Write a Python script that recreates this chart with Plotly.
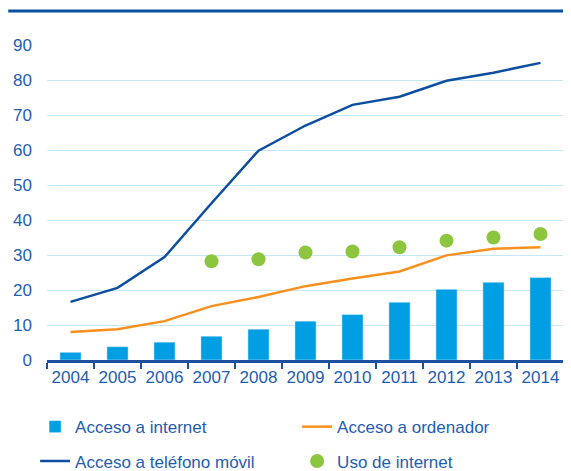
import plotly.graph_objects as go

anios = ['2004', '2005', '2006', '2007', '2008', '2009', '2010', '2011', '2012', '2013', '2014']
acceso_internet = [2.2, 3.8, 5.1, 6.8, 8.8, 11.1, 13.0, 16.5, 20.2, 22.2, 23.6]
acceso_ordenador = [8.0, 8.8, 11.1, 15.4, 18.0, 21.1, 23.3, 25.3, 29.9, 31.8, 32.2]
acceso_movil = [16.6, 20.6, 29.4, 44.8, 59.8, 67.0, 72.9, 75.2, 79.8, 82.1, 84.9]
uso_internet = [None, None, None, 28.2, 28.8, 30.7, 31.0, 32.2, 34.1, 35.0, 36.0]

azul_texto = '#1e5db2'
fuente = dict(family='Liberation Sans, Arial, sans-serif', size=17, color=azul_texto)

fig = go.Figure()

fig.add_trace(go.Bar(
    x=anios, y=acceso_internet, name='Acceso a internet',
    marker_color='#009fe3', legend='legend',
))
fig.add_trace(go.Scatter(
    x=anios, y=acceso_ordenador, name='Acceso a ordenador', mode='lines',
    line=dict(color='#f7901e', width=2.5), legend='legend',
))
fig.add_trace(go.Scatter(
    x=anios, y=acceso_movil, name='Acceso a teléfono móvil', mode='lines',
    line=dict(color='#0d4f9e', width=2.5), legend='legend2',
))
fig.add_trace(go.Scatter(
    x=anios, y=uso_internet, name='Uso de internet', mode='markers',
    marker=dict(color='#8cc63f', size=14), legend='legend2',
))

leyenda = dict(orientation='h', x=-0.023, xanchor='left', yanchor='middle',
               font=fuente, entrywidth=217, bgcolor='rgba(0,0,0,0)')

# la pagina añade 8 px de margen, por eso la figura es algo menor que la ventana
fig.update_layout(
    width=563, height=463,
    margin=dict(l=39, r=7, t=37, b=111, autoexpand=False),
    plot_bgcolor='white', paper_bgcolor='white',
    font=fuente,
    bargap=0.55,
    legend=dict(leyenda, y=-0.213),
    legend2=dict(leyenda, y=-0.322),
    xaxis=dict(
        type='category', range=[-0.5, len(anios) - 0.5],
        tickson='boundaries', ticks='outside', ticklen=6,
        tickwidth=2, tickcolor='#1f4f9f', showline=True, linecolor='#1f4f9f',
        linewidth=2.5, showgrid=False, tickfont=fuente, tickangle=0,
        fixedrange=True,
    ),
    yaxis=dict(
        range=[0, 90], dtick=10, showgrid=True, gridcolor='#c6e7f6', gridwidth=1,
        zeroline=False, showline=False, ticks='', ticklabelstandoff=14,
        tickfont=fuente,
    ),
    shapes=[dict(type='line', xref='paper', yref='paper', x0=-0.075, x1=1.008,
                 y0=1.108, y1=1.108, line=dict(color='#0a50a1', width=3))],
)

fig.write_html("out.html")
